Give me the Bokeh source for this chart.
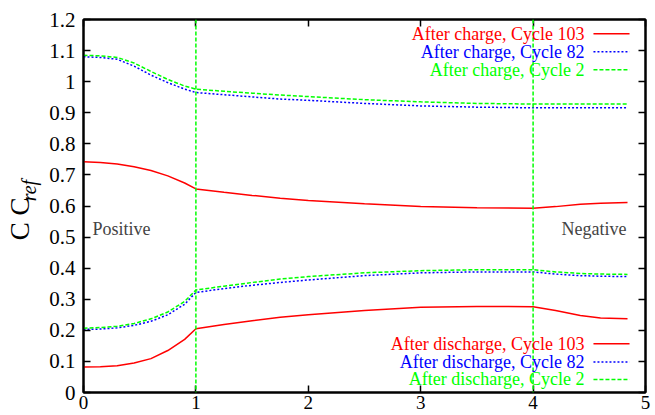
import math
from bokeh.plotting import figure
from bokeh.layouts import row
from bokeh.models import (Range1d, LinearAxis, FixedTicker, CustomJSTickFormatter,
                          Span, Label)
from bokeh.core.properties import value
from bokeh.embed import file_html
from bokeh.resources import INLINE

# ---- data ----
x = [0, 0.15, 0.3, 0.45, 0.6, 0.75, 0.9, 1.0, 1.25, 1.5, 1.75, 2.0, 2.5, 3.0, 3.5,
     4.0, 4.2, 4.42, 4.6, 4.84]

charge_c103 = [0.742, 0.740, 0.735, 0.726, 0.714, 0.697, 0.674, 0.655, 0.644, 0.634,
               0.625, 0.618, 0.607, 0.598, 0.594, 0.593, 0.598, 0.606, 0.609, 0.611]
charge_c82 = [1.080, 1.078, 1.072, 1.050, 1.021, 0.997, 0.976, 0.965, 0.958, 0.951,
              0.944, 0.940, 0.930, 0.922, 0.918, 0.916, 0.916, 0.916, 0.916, 0.916]
charge_c2 = [1.085, 1.083, 1.078, 1.060, 1.033, 1.007, 0.986, 0.976, 0.969, 0.963,
             0.957, 0.952, 0.942, 0.935, 0.930, 0.928, 0.928, 0.928, 0.928, 0.928]

discharge_c103 = [0.082, 0.083, 0.086, 0.095, 0.109, 0.135, 0.171, 0.205, 0.219, 0.231,
                  0.242, 0.250, 0.264, 0.274, 0.277, 0.276, 0.264, 0.248, 0.240, 0.237]
discharge_c82 = [0.203, 0.204, 0.208, 0.216, 0.229, 0.250, 0.284, 0.322, 0.334, 0.345,
                 0.354, 0.362, 0.376, 0.385, 0.388, 0.388, 0.381, 0.376, 0.374, 0.373]
discharge_c2 = [0.207, 0.209, 0.213, 0.222, 0.237, 0.259, 0.293, 0.330, 0.342, 0.354,
                0.365, 0.373, 0.385, 0.392, 0.395, 0.395, 0.388, 0.383, 0.381, 0.380]

boundaries = [1, 4]
x_ticks = [0, 1, 2, 3, 4, 5]
y_ticks = [0, 0.1, 0.2, 0.3, 0.4, 0.5, 0.6, 0.7, 0.8, 0.9, 1.0, 1.1, 1.2]

charge_labels = ["After charge, Cycle 103", "After charge, Cycle 82", "After charge, Cycle 2"]
discharge_labels = ["After discharge, Cycle 103", "After discharge, Cycle 82",
                    "After discharge, Cycle 2"]
y_title_main = "C C"
y_title_sub = "ref"

RED, BLUE, GREEN = "#ff0000", "#0000ff", "#00ff00"
styles = [(RED, "solid"), (BLUE, "2 2"), (GREEN, "4 2")]
FONT = "'Liberation Serif', 'Times New Roman', serif"

TITLE_W = 45
yr = Range1d(0, 1.2)

p = figure(width=655 - TITLE_W, height=415, output_backend="svg", toolbar_location=None,
           x_range=Range1d(0, 5), y_range=yr,
           min_border_left=83 - TITLE_W, min_border_right=10, min_border_top=19,
           min_border_bottom=23)
p.background_fill_color = "white"
p.border_fill_color = "white"
p.xgrid.visible = False
p.ygrid.visible = False
p.outline_line_color = "black"
p.outline_line_width = 2

fmt = CustomJSTickFormatter(code="return String(Math.round(tick*10)/10);")
blank = CustomJSTickFormatter(code="return '';")

for ax in p.xaxis:
    ax.ticker = FixedTicker(ticks=x_ticks)
for ax in p.yaxis:
    ax.ticker = FixedTicker(ticks=y_ticks)
    ax.formatter = fmt

def style_axis(ax, labels=True):
    ax.axis_line_color = "black"
    ax.axis_line_width = 2
    ax.major_tick_in = 7
    ax.major_tick_out = 0
    ax.major_tick_line_width = 1.5
    ax.minor_tick_line_color = None
    if labels:
        ax.major_label_text_font = FONT
        ax.major_label_text_font_size = "21px"
        ax.major_label_text_color = "black"
        ax.major_label_standoff = 6
    else:
        ax.formatter = blank
        ax.major_label_standoff = 0

style_axis(p.xaxis[0])
style_axis(p.yaxis[0])
p.xaxis[0].major_label_text_font_size = "19px"
p.xaxis[0].major_label_standoff = 3
p.yaxis[0].major_label_standoff = 8

top = LinearAxis(ticker=FixedTicker(ticks=x_ticks))
right = LinearAxis(ticker=FixedTicker(ticks=y_ticks))
style_axis(top, labels=False)
style_axis(right, labels=False)
p.add_layout(top, "above")
p.add_layout(right, "right")

# boundary lines
for b in boundaries:
    p.add_layout(Span(location=b, dimension="height", line_color=GREEN,
                      line_dash="4 2", line_width=1.5))

# curves
series = [charge_c103, charge_c82, charge_c2, discharge_c103, discharge_c82, discharge_c2]
for i, ys in enumerate(series):
    color, dash = styles[i % 3]
    p.line(x, ys, line_color=color, line_dash=dash, line_width=1.5)

# legends (drawn manually: right-aligned coloured text, sample on the right)
def legend_block(labels, rows_y):
    for (color, dash), lab, yy in zip(styles, labels, rows_y):
        p.add_layout(Label(x=4.457, y=yy, text=lab, text_align="right",
                           text_baseline="middle", text_font=FONT,
                           text_font_size="18px", text_color=color))
        p.segment(x0=[4.537], y0=[yy], x1=[4.858], y1=[yy], line_color=color,
                  line_dash=dash, line_width=1.5)

legend_block(charge_labels, [1.154, 1.096, 1.038])
legend_block(discharge_labels, [0.157, 0.098, 0.042])

# region labels
p.add_layout(Label(x=0.08, y=0.525, text="Positive", text_font=FONT,
                   text_font_size="18px", text_baseline="alphabetic"))
p.add_layout(Label(x=4.83, y=0.525, text="Negative", text_font=FONT,
                   text_font_size="18px", text_align="right", text_baseline="alphabetic"))

# y axis title (C C_ref) in a narrow strip to the left, sharing the y range
t = figure(width=TITLE_W, height=415, output_backend="svg", toolbar_location=None,
           x_range=Range1d(0, TITLE_W), y_range=yr,
           x_axis_location=None, y_axis_location=None,
           min_border_left=0, min_border_right=0, min_border_top=19, min_border_bottom=23)
t.xgrid.visible = False
t.ygrid.visible = False
t.outline_line_color = None
t.background_fill_color = "white"
t.border_fill_color = "white"
t.text(x=[19], y=[0.49], text=[y_title_main], angle=math.pi / 2,
       text_font=value(FONT), text_font_size="27px", text_color="black",
       text_baseline="alphabetic", text_align="left")
t.text(x=[28], y=[0.615], text=[y_title_sub], angle=math.pi / 2,
       text_font=value(FONT), text_font_size="20px", text_font_style="italic",
       text_color="black", text_baseline="alphabetic", text_align="left")

layout = row(t, p, spacing=0)
open("out.html", "w").write(file_html(layout, INLINE))
